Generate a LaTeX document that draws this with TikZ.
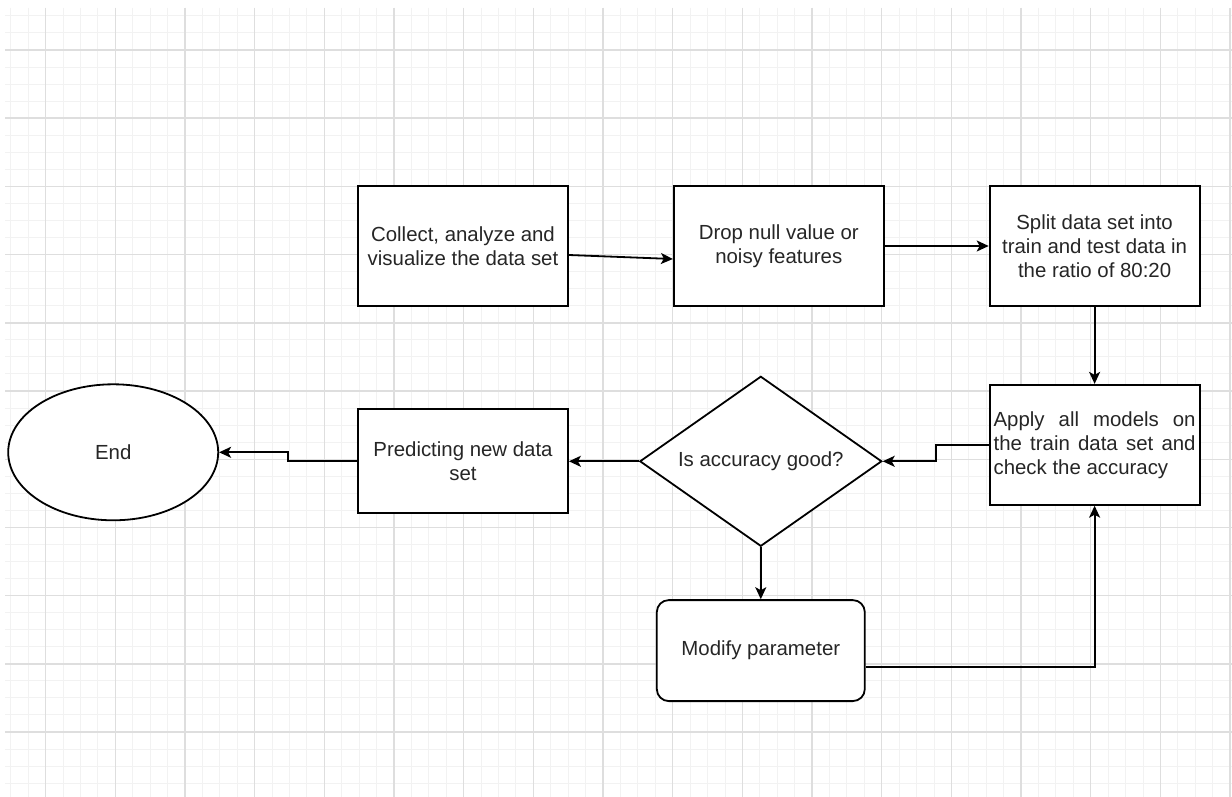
\documentclass[tikz,border=0pt]{standalone}
\usepackage{fontspec}
\setmainfont{Liberation Sans}
\usetikzlibrary{shapes.geometric, arrows.meta, positioning}

\begin{document}
\begin{tikzpicture}[
    x=1pt, y=-1pt,
    font=\fontsize{10.2pt}{12pt}\selectfont,
    minorgrid/.style={draw=black!5, line width=0.5pt},
    majorgrid/.style={draw=black!13, line width=0.7pt},
    process/.style={rectangle, draw=black, fill=white, line width=0.9pt, minimum width=105pt, minimum height=60pt, align=center, text=black!85, inner sep=1pt},
    decisionbox/.style={diamond, aspect=1.42, draw=black, fill=white, line width=0.9pt, minimum width=121pt, minimum height=85pt, inner sep=0pt, text=black!85},
    terminal/.style={ellipse, draw=black, fill=white, line width=0.9pt, minimum width=105pt, minimum height=68pt, text=black!85},
    arrow/.style={-{Stealth[length=6pt, width=5.5pt, inset=1.5pt]}, line width=0.9pt}
]
\useasboundingbox (0,0) rectangle (616,398.5);
\fill[white] (0,0) rectangle (616,398.5);
\foreach \i in {0,...,70} \draw[minorgrid] ({5.43+\i*8.709},4) -- ({5.43+\i*8.709},398.5);
\foreach \i in {0,...,45} \draw[minorgrid] (2.5,{7.95+\i*8.525}) -- (616,{7.95+\i*8.525});
\foreach \k in {0,...,17} \draw[majorgrid] ({22.85+\k*34.835},4) -- ({22.85+\k*34.835},398.5);
\foreach \k in {0,...,10} \draw[majorgrid] (2.5,{25+\k*34.1}) -- (616,{25+\k*34.1});

\node (collect) [process] at (231.5,123) {Collect, analyze and\\visualize the data set};
\node (dropnull) [process, right=52pt of collect] {Drop null value or\\noisy features};
\node (split) [process, right=52pt of dropnull] {Split data set into\\train and test data in\\the ratio of 80:20};
\node (apply) [process, below=38.5pt of split, align=left] {\makebox[101pt][s]{Apply all models on}\\\makebox[101pt][s]{the train data set and}\\check the accuracy};
\node (decision) [decisionbox, left=53pt of apply, yshift=-8.25pt] {Is accuracy good?};
\node (predict) [process, minimum height=52pt, left=35pt of decision] {Predicting new data\\set};
\node (finish) [terminal, left=69pt of predict, yshift=4.5pt] {End};
\node (modify) [process, rounded corners=6pt, minimum width=104pt, minimum height=50.5pt, below=26pt of decision] {Modify parameter};

\draw [arrow] ([yshift=-4.5pt]collect.east) -- ([yshift=-6.5pt]dropnull.west);
\draw [arrow] (dropnull) -- (split);
\draw [arrow] (split) -- (apply);
\draw [arrow] (apply.west) -- ++(-26.5pt,0) |- (decision.east);
\draw [arrow] (decision) -- (predict);
\draw [arrow] (predict.west) -- ++(-34.5pt,0) |- (finish.east);
\draw [arrow] (decision) -- (modify);
\draw [arrow] ([yshift=-8.25pt]modify.east) -| (apply.south);
\end{tikzpicture}
\end{document}
